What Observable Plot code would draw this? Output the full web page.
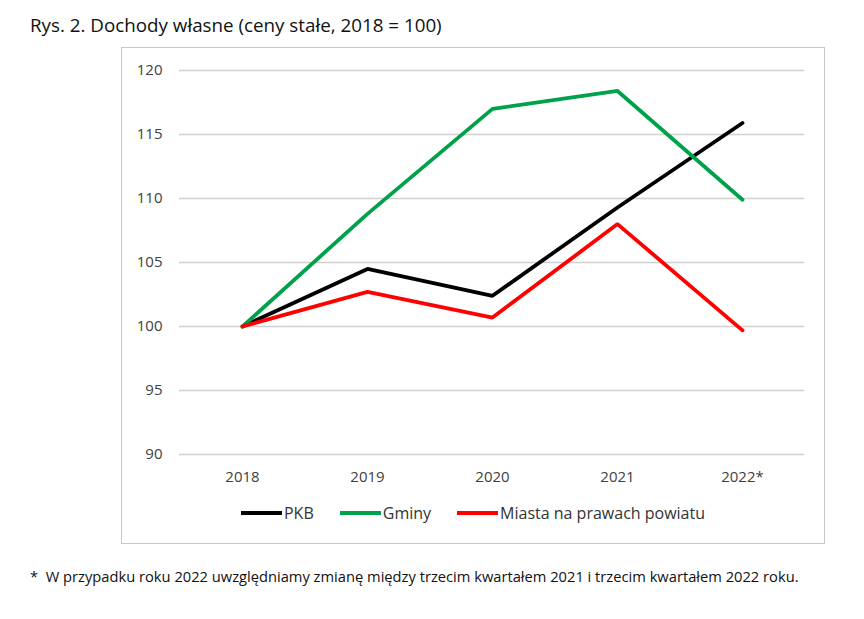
<!DOCTYPE html>
<html><head><meta charset="utf-8">
<script src="https://cdn.jsdelivr.net/npm/d3@7"></script>
<script src="https://cdn.jsdelivr.net/npm/@observablehq/plot@0.6"></script>
<style>
body{margin:0;background:#fff;font-family:"Open Sans",sans-serif;}
#wrap{position:relative;width:864px;height:619px;}
#title{position:absolute;left:30px;top:12px;font-size:18.8px;color:#111;white-space:nowrap;}
#box{position:absolute;left:121px;top:47px;width:702px;height:495px;border:1px solid #c8c8c8;}
#chart{position:absolute;left:0;top:0;}
#legend{position:absolute;left:0;top:454px;width:100%;display:flex;justify-content:center;font-size:16px;color:#333;}
.item{display:flex;align-items:center;margin:0 13px;}
.sw{width:41px;height:4px;margin-right:2px;}
#note{position:absolute;left:30px;top:566px;font-size:14.7px;color:#111;white-space:nowrap;}
</style></head>
<body><div id="wrap">
<div id="title">Rys. 2. Dochody własne (ceny stałe, 2018 = 100)</div>
<div id="box"><div id="chart"></div><div id="legend"></div></div>
<div id="note">*&nbsp; W przypadku roku 2022 uwzględniamy zmianę między trzecim kwartałem 2021 i trzecim kwartałem 2022 roku.</div>
</div>
<script>
const years = ["2018","2019","2020","2021","2022*"];
const seriesNames = ["PKB","Gminy","Miasta na prawach powiatu"];
const pkb = [100, 104.5, 102.4, 109.3, 115.9];
const gminy = [100, 108.8, 117.0, 118.4, 109.9];
const miasta = [100, 102.7, 100.7, 108.0, 99.7];
const colors = ["#000000","#00a14b","#ff0000"];
const yTicks = [90, 95, 100, 105, 110, 115, 120];

const allSeries = [pkb, gminy, miasta];
const data = [];
seriesNames.forEach((s, i) => years.forEach((y, j) => data.push({series: s, year: y, value: allSeries[i][j]})));

const chart = Plot.plot({
  width: 702,
  height: 450,
  marginLeft: 57,
  marginRight: 20,
  marginTop: 22,
  marginBottom: 44,
  style: {fontFamily: "'Open Sans', sans-serif", fontSize: "15px", color: "#404040", background: "transparent"},
  x: {type: "point", domain: years, padding: 0.5, label: null, tickSize: 0, tickPadding: 17},
  y: {domain: [90, 120], ticks: yTicks, label: null, tickSize: 0, tickPadding: 17},
  color: {domain: seriesNames, range: colors},
  marks: [
    Plot.ruleY(yTicks, {stroke: "#d0d0d0", strokeWidth: 1.3}),
    Plot.line(data, {x: "year", y: "value", z: "series", stroke: "series", strokeWidth: 3.8, strokeLinejoin: "miter", strokeLinecap: "round"})
  ]
});
document.getElementById("chart").appendChild(chart);

const leg = document.getElementById("legend");
seriesNames.forEach((s, i) => {
  const it = document.createElement("div"); it.className = "item";
  const sw = document.createElement("span"); sw.className = "sw"; sw.style.background = colors[i];
  const t = document.createElement("span"); t.textContent = s;
  it.appendChild(sw); it.appendChild(t); leg.appendChild(it);
});
</script>
</body></html>
